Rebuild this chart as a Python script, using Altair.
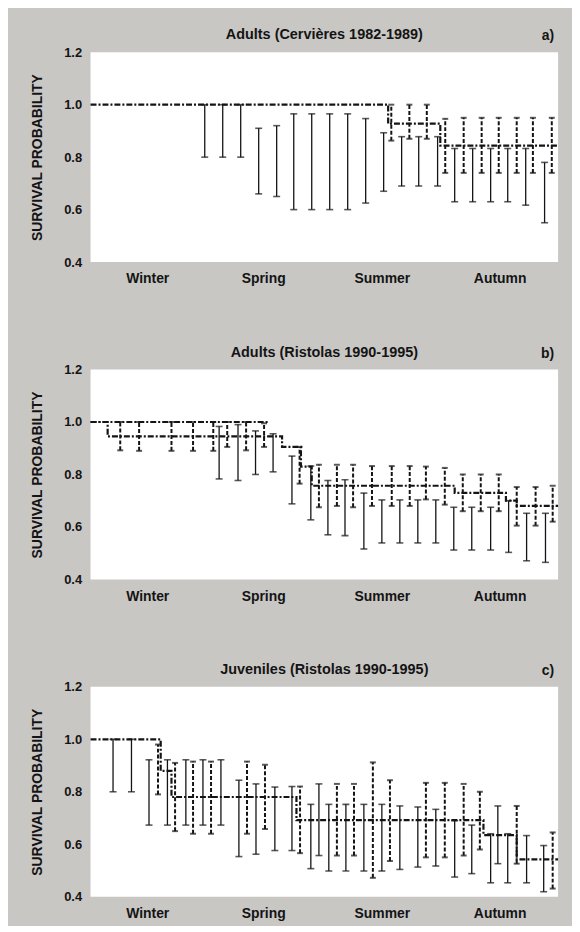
import json
import altair as alt
import pandas as pd

FONT = "Liberation Sans"
INK = "#141414"

# ---------------- shared axis data ----------------
seasons = ["Winter", "Spring", "Summer", "Autumn"]
season_weeks = [6.3, 19.2, 32.4, 45.5]
y_ticks = [0.4, 0.6, 0.8, 1.0, 1.2]

panel_titles = [
    "Adults (Cervières 1982-1989)",
    "Adults (Ristolas 1990-1995)",
    "Juveniles (Ristolas 1990-1995)",
]
panel_letters = ["a)", "b)", "c)"]

# ---------------- panel a ----------------
a_step_week = [0, 33.1, 38.9, 52]
a_step_surv = [1.0, 0.928, 0.844, 0.844]

a_solid_week = [12.7, 14.7, 16.7, 18.7, 20.7, 22.6, 24.6, 26.6, 28.6, 30.6,
                32.6, 34.6, 36.5, 38.6, 40.5, 42.5, 44.5, 46.4, 48.4, 50.5]
a_solid_lo = [0.80, 0.80, 0.80, 0.66, 0.65, 0.60, 0.60, 0.60, 0.60, 0.625,
              0.67, 0.69, 0.69, 0.69, 0.63, 0.63, 0.63, 0.63, 0.617, 0.55]
a_solid_hi = [1.0, 1.0, 1.0, 0.91, 0.92, 0.965, 0.965, 0.965, 0.965, 0.947,
              0.893, 0.878, 0.878, 0.878, 0.833, 0.833, 0.833, 0.833, 0.833, 0.78]

a_dash_week = [33.45, 35.46, 37.4, 39.45, 41.5, 43.5, 45.4, 47.4, 49.2, 51.3]
a_dash_lo = [0.863, 0.87, 0.87, 0.74, 0.74, 0.74, 0.74, 0.74, 0.74, 0.74]
a_dash_hi = [1.0, 1.0, 1.0, 0.946, 0.95, 0.95, 0.95, 0.95, 0.95, 0.95]

# ---------------- panel b ----------------
b_step_week = [0, 1.9, 21.3, 23.4, 24.6, 40.5, 46.2, 47.4, 52]
b_step_surv = [1.0, 0.945, 0.905, 0.83, 0.757, 0.73, 0.70, 0.68, 0.68]
b_upper_week = [0, 19.9]
b_upper_surv = [1.0, 1.0]

b_solid_week = [14.3, 16.4, 18.35, 20.3, 22.4, 24.5, 26.4, 28.3, 30.4, 32.4,
                34.4, 36.4, 38.4, 40.4, 42.4, 44.5, 46.5, 48.5, 50.6]
b_solid_lo = [0.783, 0.777, 0.80, 0.81, 0.688, 0.627, 0.57, 0.567, 0.516, 0.539,
              0.539, 0.539, 0.539, 0.512, 0.512, 0.512, 0.503, 0.471, 0.465]
b_solid_hi = [0.983, 0.99, 0.966, 0.955, 0.87, 0.832, 0.777, 0.78, 0.729, 0.703,
              0.703, 0.703, 0.703, 0.675, 0.675, 0.675, 0.70, 0.652, 0.652]

b_dash_week = [3.3, 5.4, 9.0, 11.4, 13.65, 15.2, 17.3, 19.3, 23.25, 25.4, 27.4,
               29.2, 31.3, 33.5, 35.5, 37.3, 39.4, 41.4, 43.4, 45.4, 47.4, 49.5, 51.4]
b_dash_lo = [0.892, 0.89, 0.89, 0.89, 0.89, 0.905, 0.892, 0.905, 0.765, 0.675, 0.68,
             0.675, 0.68, 0.68, 0.68, 0.705, 0.685, 0.66, 0.66, 0.66, 0.605, 0.605, 0.62]
b_dash_hi = [1.0, 1.0, 1.0, 1.0, 1.0, 1.0, 1.0, 0.995, 0.905, 0.837, 0.837,
             0.837, 0.832, 0.832, 0.832, 0.83, 0.825, 0.80, 0.80, 0.80, 0.752, 0.752, 0.757]

# ---------------- panel c ----------------
c_step_week = [0, 7.8, 9.0, 22.9, 43.7, 47.4, 52]
c_step_surv = [1.0, 0.88, 0.78, 0.692, 0.635, 0.542, 0.542]

c_solid_week = [2.5, 4.55, 6.5, 8.55, 10.6, 12.5, 14.5, 16.5, 18.4, 20.5, 22.4,
                24.5, 25.4, 26.5, 28.4, 30.4, 32.4, 34.4, 36.4, 38.4, 40.5, 42.4,
                44.5, 45.3, 46.4, 48.5, 50.4]
c_solid_lo = [0.80, 0.80, 0.673, 0.673, 0.673, 0.673, 0.673, 0.553, 0.562, 0.576, 0.576,
              0.507, 0.557, 0.498, 0.498, 0.498, 0.498, 0.504, 0.513, 0.517, 0.475, 0.488,
              0.453, 0.526, 0.453, 0.453, 0.419]
c_solid_hi = [1.0, 1.0, 0.922, 0.922, 0.922, 0.922, 0.922, 0.844, 0.83, 0.818, 0.82,
              0.752, 0.83, 0.752, 0.752, 0.752, 0.752, 0.746, 0.742, 0.733, 0.69, 0.673,
              0.64, 0.746, 0.64, 0.633, 0.595]

c_dash_week = [7.5, 9.4, 11.4, 13.4, 17.4, 19.4, 23.3, 27.4, 29.3, 31.4, 33.3,
               37.3, 39.4, 41.5, 43.3, 47.4, 51.4]
c_dash_lo = [0.79, 0.65, 0.64, 0.64, 0.64, 0.658, 0.566, 0.557, 0.557, 0.472, 0.536,
             0.55, 0.55, 0.557, 0.58, 0.526, 0.431]
c_dash_hi = [0.98, 0.91, 0.915, 0.915, 0.915, 0.903, 0.82, 0.83, 0.83, 0.912, 0.844,
             0.834, 0.834, 0.83, 0.80, 0.746, 0.645]

PW, PH = 470, 211

season_expr = f"{json.dumps(seasons)}[indexof({json.dumps(season_weeks)}, datum.value)]"


def make_panel(title, letter, step_sets, solid, dashed):
    steps = pd.concat(
        [pd.DataFrame({"week": w, "surv": s, "series": name}) for name, w, s in step_sets],
        ignore_index=True,
    )
    solid_df = pd.DataFrame({"week": solid[0], "lo": solid[1], "hi": solid[2]})
    dash_df = pd.DataFrame({"week": dashed[0], "lo": dashed[1], "hi": dashed[2]})
    solid_caps = pd.DataFrame({"week": solid[0] + solid[0], "v": solid[1] + solid[2]})
    dash_caps = pd.DataFrame({"week": dashed[0] + dashed[0], "v": dashed[1] + dashed[2]})

    x = alt.X(
        "week:Q",
        scale=alt.Scale(domain=[0, 52], nice=False, zero=False),
        axis=alt.Axis(values=season_weeks, labelExpr=season_expr, title=None),
    )
    y_axis = alt.Axis(values=y_ticks, format=".1f", title="SURVIVAL PROBABILITY")
    yscale = alt.Scale(domain=[0.4, 1.2], nice=False, zero=False)

    step = alt.Chart(steps).mark_line(
        interpolate="step-after", strokeDash=[6, 2, 2, 2], strokeWidth=2.2, color=INK
    ).encode(x=x, y=alt.Y("surv:Q", scale=yscale, axis=y_axis), detail="series:N")

    s_rule = alt.Chart(solid_df).mark_rule(strokeWidth=1.3, color=INK).encode(
        x="week:Q", y="lo:Q", y2="hi:Q"
    )
    s_cap = alt.Chart(solid_caps).mark_tick(
        orient="horizontal", size=7, thickness=1.6, color=INK
    ).encode(x="week:Q", y="v:Q")

    d_rule = alt.Chart(dash_df).mark_rule(
        strokeWidth=2, strokeDash=[4, 2], color=INK
    ).encode(x="week:Q", y="lo:Q", y2="hi:Q")
    d_cap = alt.Chart(dash_caps).mark_tick(
        orient="horizontal", size=6, thickness=2, color=INK
    ).encode(x="week:Q", y="v:Q")

    labels = pd.DataFrame({"t": [title], "l": [letter]})
    title_txt = alt.Chart(labels).mark_text(
        font=FONT, fontSize=14.5, fontWeight="bold", color=INK, align="center", baseline="middle"
    ).encode(x=alt.value(PW / 2), y=alt.value(-17), text="t:N")
    letter_txt = alt.Chart(labels).mark_text(
        font=FONT, fontSize=14, fontWeight="bold", color=INK, align="right", baseline="middle"
    ).encode(x=alt.value(PW - 4), y=alt.value(-16), text="l:N")

    return alt.layer(step, d_rule, d_cap, s_rule, s_cap, title_txt, letter_txt).properties(
        width=PW, height=PH
    )


pa = make_panel(panel_titles[0], panel_letters[0],
                [("est", a_step_week, a_step_surv)],
                (a_solid_week, a_solid_lo, a_solid_hi),
                (a_dash_week, a_dash_lo, a_dash_hi))
pb = make_panel(panel_titles[1], panel_letters[1],
                [("est", b_step_week, b_step_surv), ("upper", b_upper_week, b_upper_surv)],
                (b_solid_week, b_solid_lo, b_solid_hi),
                (b_dash_week, b_dash_lo, b_dash_hi))
pc = make_panel(panel_titles[2], panel_letters[2],
                [("est", c_step_week, c_step_surv)],
                (c_solid_week, c_solid_lo, c_solid_hi),
                (c_dash_week, c_dash_lo, c_dash_hi))

chart = alt.vconcat(pa, pb, pc, spacing=59).properties(
    background="#c9c7c4",
    padding={"left": 22, "top": 17, "right": 9, "bottom": 3},
).configure_view(fill="white", stroke=None).configure_axis(
    labelFont=FONT, labelFontWeight="bold", labelColor=INK,
    titleFont=FONT, titleFontSize=14, titleFontWeight="bold", titleColor=INK,
    ticks=False, tickSize=0, domain=False, grid=False,
).configure_axisY(labelFontSize=13, labelPadding=9, titlePadding=19).configure_axisX(
    labelFontSize=14, labelPadding=10
)

chart.save("out.html", embed_options={"renderer": "svg", "actions": False})
